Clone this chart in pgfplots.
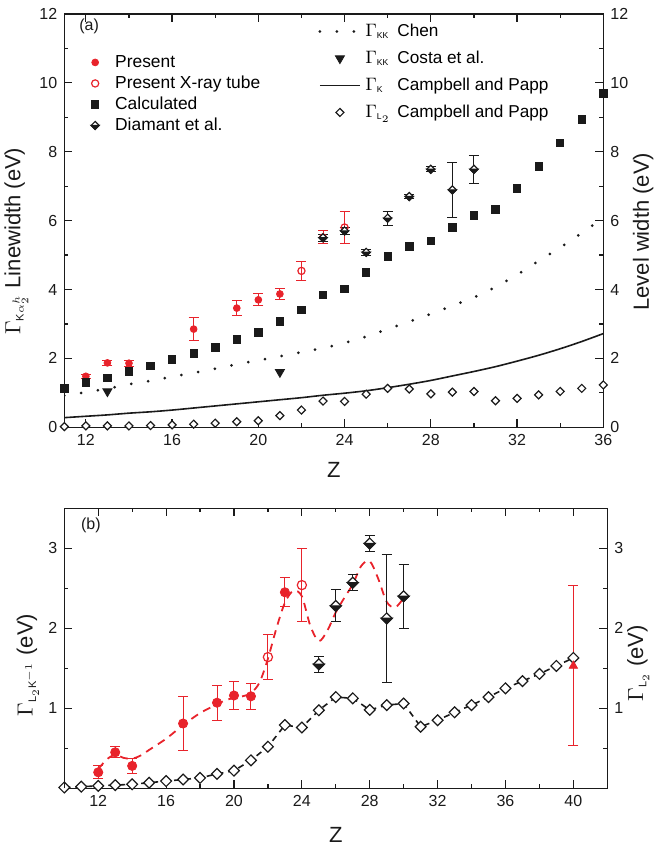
\documentclass[border=0pt]{standalone}
\usepackage{fontspec}
\setmainfont{Liberation Sans}
\usepackage{amsmath}
\usepackage{pgfplots}
\pgfplotsset{compat=1.18}
\definecolor{Red}{HTML}{E8232B}
\definecolor{Ink}{HTML}{1A1A1A}

% open diamond, equal width and height
\pgfdeclareplotmark{dmd}{%
  \pgfpathmoveto{\pgfqpoint{0pt}{\pgfplotmarksize}}%
  \pgfpathlineto{\pgfqpoint{\pgfplotmarksize}{0pt}}%
  \pgfpathlineto{\pgfqpoint{0pt}{-\pgfplotmarksize}}%
  \pgfpathlineto{\pgfqpoint{-\pgfplotmarksize}{0pt}}%
  \pgfpathclose
  \pgfusepathqfillstroke}
% diamond with the lower half filled
\pgfdeclareplotmark{halfdmd}{%
  \pgfpathmoveto{\pgfqpoint{0pt}{\pgfplotmarksize}}%
  \pgfpathlineto{\pgfqpoint{\pgfplotmarksize}{0pt}}%
  \pgfpathlineto{\pgfqpoint{0pt}{-\pgfplotmarksize}}%
  \pgfpathlineto{\pgfqpoint{-\pgfplotmarksize}{0pt}}%
  \pgfpathclose
  \pgfusepathqfillstroke
  \begin{pgfscope}%
  \pgfsetfillcolor{Ink}%
  \pgfpathmoveto{\pgfqpoint{-\pgfplotmarksize}{0pt}}%
  \pgfpathlineto{\pgfqpoint{\pgfplotmarksize}{0pt}}%
  \pgfpathlineto{\pgfqpoint{0pt}{-\pgfplotmarksize}}%
  \pgfpathclose
  \pgfusepathqfillstroke
  \end{pgfscope}}

\pgfplotsset{
  base/.style={
    scale only axis,
    tick align=inside,
    major tick length=4pt,
    minor tick length=2pt,
    every tick/.style={Ink, line width=0.6pt},
    axis line style={Ink, line width=0.7pt},
    tick label style={font=\fontsize{8}{9}\selectfont, text=Ink},
    /pgf/number format/assume math mode=true,
    label style={font=\fontsize{11}{13}\selectfont, text=Ink},
    legend cell align=left,
  },
  redbars/.style={
    error bars/.cd, y dir=both, y explicit,
    error bar style={Red, line width=0.5pt},
    error mark options={rotate=90, Red, mark size=2.5pt, line width=0.5pt},
  },
  blackbars/.style={
    error bars/.cd, y dir=both, y explicit,
    error bar style={Ink, line width=0.5pt},
    error mark options={rotate=90, Ink, mark size=2.5pt, line width=0.5pt},
  },
}

\begin{document}
\begin{tikzpicture}
\useasboundingbox (0pt,0pt) rectangle (328pt,423.5pt);

% ---------------- panel (a), left scale
\begin{axis}[base,
  at={(32.15pt,209.85pt)}, anchor=south west,
  width=269.5pt, height=206.7pt,
  xmin=11, xmax=36, ymin=0, ymax=12,
  xtick={12,16,...,36}, minor xtick={14,18,...,34},
  ytick={0,2,...,12}, minor ytick={1,3,...,11},
  xtick pos=both, xticklabel pos=lower,
  ytick pos=both, yticklabel pos=left,
  xlabel={Z},
  xlabel style={at={(axis description cs:0.5,-0.104)}, anchor=center},
  ylabel={$\Gamma_{\scriptscriptstyle\text{K}\alpha_{2}^{h}}$ Linewidth (eV)},
  ylabel style={at={(axis description cs:-0.089,0.45)}, anchor=center},
  legend style={draw=none, fill=none,
    at={(axis description cs:0.038,0.915)}, anchor=north west,
    font=\fontsize{8.7}{10}\selectfont, row sep=1.5pt,
    nodes={inner sep=0pt, text height=7pt, text depth=2pt},
    /tikz/every odd column/.append style={column sep=8pt}},
  legend image code/.code={\draw[mark repeat=2,mark phase=2,#1]
    plot coordinates {(0pt,0pt) (4pt,0pt) (8pt,0pt)};},
]
\node[font=\fontsize{8}{9}\selectfont, text=Ink] at (axis description cs:0.046,0.97) {(a)};

\addplot[only marks, mark=*, mark size=1.7pt, color=Red, redbars] coordinates {
  (12,1.48) +- (0,0.06)
  (13,1.87) +- (0,0.07)
  (14,1.86) +- (0,0.09)
  (17,2.85) +- (0,0.34)
  (19,3.46) +- (0,0.21)
  (20,3.70) +- (0,0.17)
  (21,3.87) +- (0,0.17)
  (23,5.52) +- (0,0.18)
};
\addlegendentry{Present}
\addplot[only marks, mark=o, mark size=1.8pt, color=Red, mark options={line width=0.6pt, fill=white}, redbars] coordinates {
  (22,4.54) +- (0,0.28)
  (24,5.80) +- (0,0.46)
};
\addlegendentry{Present X-ray tube}
\addplot[only marks, mark=square*, mark size=1.85pt, color=Ink] coordinates {
  (11,1.13) (12,1.30) (13,1.44) (14,1.62) (15,1.79) (16,1.97) (17,2.15)
  (18,2.32) (19,2.55) (20,2.75) (21,3.07) (22,3.40) (23,3.85) (24,4.01)
  (25,4.50) (26,4.96) (27,5.25) (28,5.41) (29,5.80) (30,6.15) (31,6.33)
  (32,6.93) (33,7.57) (34,8.25) (35,8.94) (36,9.69)
};
\addlegendentry{Calculated}
\addplot[only marks, mark=halfdmd, mark size=2pt, color=Ink, mark options={fill=white, line width=0.6pt}, blackbars] coordinates {
  (23,5.50) +- (0,0.10)
  (24,5.70) +- (0,0.10)
  (25,5.08) +- (0,0.09)
  (26,6.07) +- (0,0.20)
  (27,6.70) +- (0,0.07)
  (28,7.49) +- (0,0.07)
  (29,6.89) +- (0,0.80)
  (30,7.49) +- (0,0.40)
};
\addlegendentry{Diamant et al.}
\end{axis}

% ---------------- panel (a), right scale
\begin{axis}[base,
  at={(32.15pt,209.85pt)}, anchor=south west,
  width=269.5pt, height=206.7pt,
  xmin=11, xmax=36, ymin=0, ymax=12,
  hide x axis,
  ytick={0,2,...,12}, minor ytick={1,3,...,11},
  ytick pos=right, yticklabel pos=right,
  ylabel={Level width (eV)},
  ylabel style={at={(axis description cs:1.074,0.473)}, anchor=center},
  legend style={draw=none, fill=none,
    at={(axis description cs:0.4596,0.99)}, anchor=north west,
    font=\fontsize{8.6}{10}\selectfont, row sep=4.5pt,
    nodes={inner sep=0pt, text height=7pt, text depth=2pt},
    /tikz/every odd column/.append style={column sep=2pt}},
  legend image code/.code={\draw[mark repeat=2,mark phase=2,#1]
    plot coordinates {(0pt,0pt) (10pt,0pt) (20pt,0pt)};},
]
\addplot[Ink, line width=1.5pt, line cap=round, dash pattern=on 0pt off 8.5pt, smooth] coordinates {
  (11,0.92) (12,1.02) (13,1.12) (14,1.25) (15,1.35) (16,1.47) (17,1.58)
  (18,1.70) (19,1.83) (20,1.94) (21,2.06) (22,2.18) (23,2.30) (24,2.45)
  (25,2.63) (26,2.85) (27,3.07) (28,3.29) (29,3.53) (30,3.77) (31,4.07)
  (32,4.43) (33,4.83) (34,5.22) (35,5.64) (36,6.08)
};
\addlegendentry{\makebox[16pt][l]{$\Gamma_{\scriptscriptstyle\text{KK}}$}Chen}
\addplot[only marks, mark=triangle*, mark size=2.6pt, color=Ink, mark options={rotate=180}] coordinates {
  (13,1.04) (21,1.60)
};
\addlegendentry{\makebox[16pt][l]{$\Gamma_{\scriptscriptstyle\text{KK}}$}Costa et al.}
\addplot[Ink, line width=0.8pt, smooth] coordinates {
  (11,0.28) (12,0.32) (13,0.36) (14,0.41) (15,0.45) (16,0.50) (17,0.56)
  (18,0.62) (19,0.68) (20,0.74) (21,0.80) (22,0.86) (23,0.93) (24,0.99)
  (25,1.06) (26,1.15) (27,1.25) (28,1.36) (29,1.49) (30,1.62) (31,1.76)
  (32,1.92) (33,2.09) (34,2.28) (35,2.49) (36,2.72)
};
\addlegendentry{\makebox[16pt][l]{$\Gamma_{\scriptscriptstyle\text{K}}$}Campbell and Papp}
\addplot[only marks, mark=dmd, mark size=2pt, color=Ink, mark options={fill=white, line width=0.6pt}] coordinates {
  (11,0.02) (12,0.04) (13,0.04) (14,0.04) (15,0.05) (16,0.07) (17,0.09)
  (18,0.12) (19,0.16) (20,0.19) (21,0.34) (22,0.50) (23,0.76) (24,0.75)
  (25,0.96) (26,1.13) (27,1.11) (28,0.97) (29,1.02) (30,1.04) (31,0.77)
  (32,0.84) (33,0.94) (34,1.04) (35,1.13) (36,1.23)
};
\addlegendentry{\makebox[16pt][l]{$\Gamma_{\scriptscriptstyle\text{L}_{2}}$}Campbell and Papp}
\end{axis}

% ---------------- panel (b), left scale
\begin{axis}[base,
  at={(32.15pt,29.35pt)}, anchor=south west,
  width=271.5pt, height=140pt,
  xmin=10, xmax=42, ymin=0, ymax=3.5,
  xtick={12,16,...,40}, minor xtick={10,14,...,42},
  ytick={1,2,3}, minor ytick={0.5,1.5,2.5},
  xtick pos=both, xticklabel pos=lower,
  ytick pos=both, yticklabel pos=left,
  xlabel={Z},
  xlabel style={at={(axis description cs:0.5,-0.167)}, anchor=center},
  ylabel={$\Gamma_{\scriptscriptstyle\text{L}_{2}\text{K}^{-1}}$ (eV)},
  ylabel style={at={(axis description cs:-0.067,0.44)}, anchor=center},
]
\node[font=\fontsize{8}{9}\selectfont, text=Ink] at (axis description cs:0.049,0.94) {(b)};

\addplot[Ink, line width=0.8pt, dash pattern=on 3pt off 2.5pt, mark=dmd, mark size=2.7pt, mark options={fill=white, solid, line width=0.6pt}] coordinates {
  (10,0.01) (11,0.02) (12,0.03) (13,0.04) (14,0.05) (15,0.07) (16,0.09)
  (17,0.11) (18,0.13) (19,0.18) (20,0.22) (21,0.35) (22,0.52) (23,0.79)
  (24,0.76) (25,0.975) (26,1.14) (27,1.125) (28,0.98) (29,1.04) (30,1.06)
  (31,0.77) (32,0.85) (33,0.95) (34,1.04) (35,1.14) (36,1.25) (37,1.34)
  (38,1.43) (39,1.53) (40,1.63)
};
\addplot[Red, line width=0.9pt, dash pattern=on 4pt off 3pt, smooth] coordinates {
  (12,0.24) (12.5,0.36) (13,0.42) (13.5,0.38) (14,0.37) (14.5,0.41)
  (15,0.48) (16,0.62) (17,0.79) (18,0.94) (19,1.05) (19.5,1.10) (20,1.13)
  (20.5,1.15) (21,1.19) (21.5,1.32) (22,1.62) (22.5,2.00) (23,2.32)
  (23.5,2.47) (24,2.40) (24.5,2.03) (25,1.84) (25.5,1.97) (26,2.20)
  (26.5,2.38) (27,2.55) (27.5,2.78) (28,2.84) (28.5,2.62) (29,2.33)
  (29.5,2.26) (30,2.38)
};
\addplot[only marks, mark=*, mark size=2.3pt, color=Red, redbars] coordinates {
  (12,0.20) +- (0,0.08)
  (13,0.45) +- (0,0.07)
  (14,0.28) +- (0,0.09)
  (17,0.81) +- (0,0.34)
  (19,1.07) +- (0,0.22)
  (20,1.16) +- (0,0.18)
  (21,1.15) +- (0,0.16)
  (23,2.45) +- (0,0.18)
};
\addplot[only marks, mark=o, mark size=2.3pt, color=Red, mark options={line width=0.6pt, fill=white}, redbars] coordinates {
  (22,1.64) +- (0,0.28)
  (24,2.54) +- (0,0.46)
};
\addplot[only marks, mark=triangle*, mark size=2.4pt, color=Red, redbars] coordinates {
  (40,1.53) +- (0,1.0)
};
\addplot[only marks, mark=halfdmd, mark size=2.7pt, color=Ink, mark options={fill=white, line width=0.6pt}, blackbars] coordinates {
  (25,1.55) +- (0,0.10)
  (26,2.28) +- (0,0.20)
  (27,2.57) +- (0,0.10)
  (28,3.06) +- (0,0.10)
  (29,2.125) +- (0,0.80)
  (30,2.40) +- (0,0.40)
};
\end{axis}

% ---------------- panel (b), right scale
\begin{axis}[base,
  at={(32.15pt,29.35pt)}, anchor=south west,
  width=271.5pt, height=140pt,
  xmin=10, xmax=42, ymin=0, ymax=3.5,
  hide x axis,
  ytick={1,2,3}, minor ytick={0.5,1.5,2.5},
  ytick pos=right, yticklabel pos=right,
  ylabel={$\Gamma_{\scriptscriptstyle\text{L}_{2}}$ (eV)},
  ylabel style={at={(axis description cs:1.057,0.446)}, anchor=center},
]
\addplot[draw=none] coordinates {(10,0) (42,0)};
\end{axis}
\end{tikzpicture}
\end{document}
